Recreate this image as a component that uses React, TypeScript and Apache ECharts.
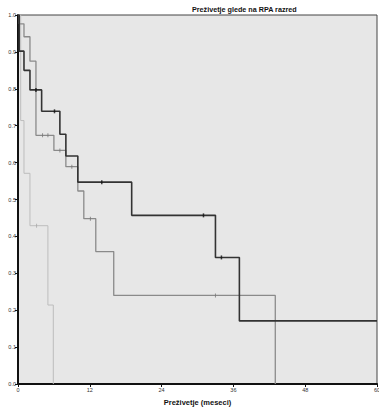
import React, { useEffect, useRef } from "react";
import * as echarts from "echarts";

// Kaplan-Meier step data (time in months, survival after the drop)
const rpa1Times = [0, 0.2, 1, 2, 3.95, 7, 8, 10, 19, 33, 37, 60];
const rpa1Surv = [1, 0.902, 0.85, 0.797, 0.739, 0.677, 0.618, 0.547, 0.457, 0.343, 0.171, 0.171];
const rpa1Censor: [number, number][] = [[3, 0.797], [6.1, 0.739], [14, 0.547], [31, 0.457], [34, 0.343]];

const rpa2Times = [0, 0.2, 1, 2, 3, 6, 8, 10, 11, 13, 16, 43];
const rpa2Surv = [1, 0.976, 0.941, 0.875, 0.674, 0.633, 0.589, 0.523, 0.448, 0.359, 0.24, 0];
const rpa2Censor: [number, number][] = [[4.1, 0.674], [5, 0.674], [7, 0.633], [9, 0.589], [12.1, 0.448], [33, 0.24]];

const rpa3Times = [0, 0.45, 1, 2, 5, 5.9];
const rpa3Surv = [1, 0.714, 0.571, 0.429, 0.214, 0];
const rpa3Censor: [number, number][] = [[3.1, 0.429]];

const xTicks = [0, 12, 24, 36, 48, 60];
const titleText = "Preživetje glede na RPA razred";
const xName = "Preživetje (meseci)";

const zip = (t: number[], s: number[]) => t.map((v, i) => [v, s[i]]);

export default function App() {
  const ref = useRef<HTMLDivElement>(null);
  useEffect(() => {
    if (!ref.current) return;
    const chart = echarts.init(ref.current, null, { renderer: "svg" });
    const censorSymbol = "rect";
    chart.setOption({
      animation: false,
      backgroundColor: "#ffffff",
      title: {
        text: titleText,
        left: 187,
        top: 1,
        textStyle: { fontFamily: "Liberation Sans", fontSize: 7.2, fontWeight: "bold", color: "#111" },
      },
      grid: {
        left: 18,
        right: 2,
        top: 15,
        bottom: 24,
        containLabel: false,
        outerBoundsMode: "none",
        show: true,
        backgroundColor: "#e7e7e7",
        borderColor: "#444",
        borderWidth: 1,
      },
      xAxis: {
        type: "value",
        min: 0,
        max: 60,
        interval: 12,
        name: xName,
        nameLocation: "middle",
        nameGap: 14,
        nameTextStyle: { fontFamily: "Liberation Sans", fontSize: 7.5, fontWeight: "bold", color: "#111" },
        axisLine: { show: true, lineStyle: { color: "#111", width: 2 } },
        axisTick: { show: true, length: 3, lineStyle: { color: "#111" } },
        axisLabel: {
          fontFamily: "Liberation Sans",
          fontSize: 5.5,
          color: "#333",
          margin: 3,
          formatter: (v: number) => (xTicks.includes(v) ? String(v) : ""),
        },
        splitLine: { show: false },
      },
      yAxis: {
        type: "value",
        min: 0,
        max: 1,
        interval: 0.1,
        axisLine: { show: true, lineStyle: { color: "#111", width: 2 } },
        axisTick: { show: true, length: 3, lineStyle: { color: "#111" } },
        axisLabel: {
          fontFamily: "Liberation Sans",
          fontSize: 5.5,
          color: "#333",
          margin: 2,
          formatter: (v: number) => v.toFixed(1),
        },
        splitLine: { show: false },
      },
      series: [
        {
          name: "RPA III",
          type: "line",
          step: "end",
          data: zip(rpa3Times, rpa3Surv),
          showSymbol: false,
          lineStyle: { color: "#bdbdbd", width: 1 },
          z: 2,
        },
        {
          name: "RPA II",
          type: "line",
          step: "end",
          data: zip(rpa2Times, rpa2Surv),
          showSymbol: false,
          lineStyle: { color: "#8a8a8a", width: 1.3 },
          z: 3,
        },
        {
          name: "RPA I",
          type: "line",
          step: "end",
          data: zip(rpa1Times, rpa1Surv),
          showSymbol: false,
          lineStyle: { color: "#333333", width: 1.6 },
          z: 4,
        },
        {
          type: "scatter",
          data: rpa3Censor,
          symbol: censorSymbol,
          symbolSize: [1, 4],
          itemStyle: { color: "#aaaaaa" },
          z: 5,
        },
        {
          type: "scatter",
          data: rpa2Censor,
          symbol: censorSymbol,
          symbolSize: [1, 4],
          itemStyle: { color: "#777777" },
          z: 5,
        },
        {
          type: "scatter",
          data: rpa1Censor,
          symbol: censorSymbol,
          symbolSize: [1.5, 4],
          itemStyle: { color: "#111111" },
          z: 6,
        },
      ],
    });
    return () => chart.dispose();
  }, []);
  return (
    <div
      ref={ref}
      style={{ position: "fixed", left: 0, top: 0, width: 379, height: 408 }}
    />
  );
}
